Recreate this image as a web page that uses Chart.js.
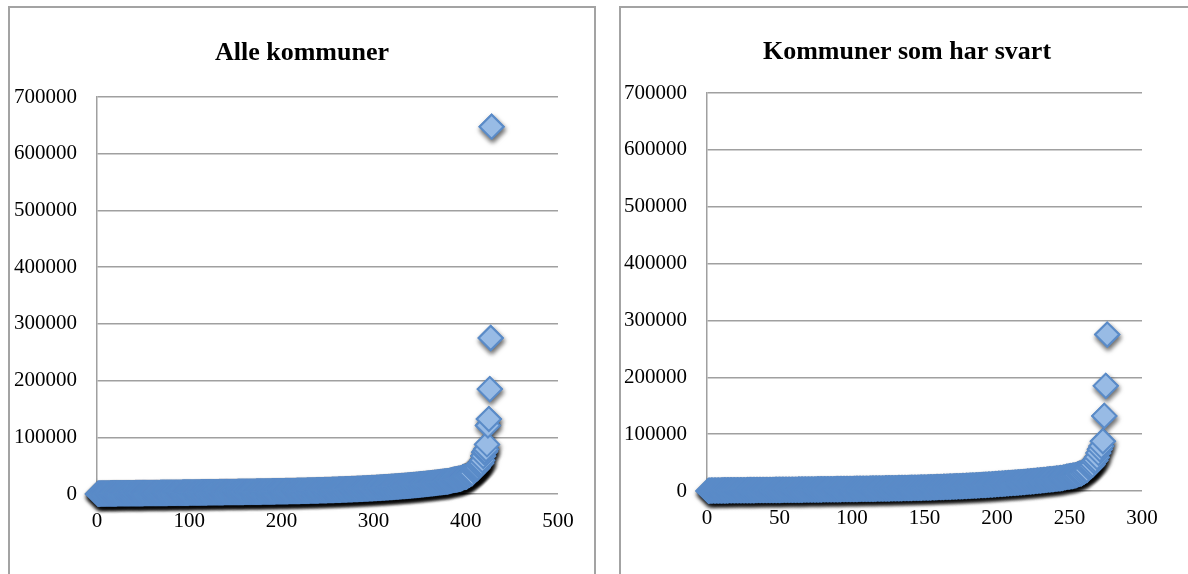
<!DOCTYPE html>
<html lang="no">
<head>
<meta charset="utf-8">
<title>Kommuner – innbyggertall</title>
<script src="https://cdn.jsdelivr.net/npm/chart.js@4.4.1/dist/chart.umd.min.js"></script>
<style>
  html, body { margin: 0; padding: 0; background: #fff; width: 1188px; height: 574px; overflow: hidden; }
  .ramme { position: absolute; border: 2px solid #a3a3a3; border-bottom: none; box-sizing: border-box; }
  #rammeA { left: 8px; top: 6px; width: 588px; height: 590px; }
  #rammeB { left: 619px; top: 6px; width: 620px; height: 590px; }
  canvas { position: absolute; top: 0; }
  #kartA { left: 0; }
  #kartB { left: 620px; }
</style>
</head>
<body>
<div class="ramme" id="rammeA"></div>
<div class="ramme" id="rammeB"></div>
<canvas id="kartA" width="604" height="574"></canvas>
<canvas id="kartB" width="574" height="574"></canvas>
<script>
// Innbyggertall per kommune, sortert stigende (x = rangering 1..n)
const befolkningAlle = [
  208, 377, 466, 520, 558, 563, 571, 597, 646, 687,
  708, 745, 762, 781, 829, 836, 851, 878, 902, 915,
  944, 952, 977, 1003, 1017, 1031, 1047, 1054, 1079, 1091,
  1103, 1118, 1126, 1152, 1164, 1170, 1191, 1203, 1229, 1236,
  1251, 1262, 1287, 1296, 1311, 1333, 1342, 1364, 1381, 1390,
  1412, 1419, 1436, 1461, 1468, 1487, 1502, 1516, 1538, 1549,
  1567, 1582, 1594, 1618, 1633, 1640, 1662, 1689, 1697, 1714,
  1738, 1752, 1769, 1781, 1806, 1822, 1840, 1861, 1872, 1897,
  1914, 1928, 1956, 1971, 1983, 2012, 2025, 2049, 2071, 2084,
  2110, 2126, 2152, 2168, 2193, 2204, 2237, 2255, 2270, 2301,
  2318, 2342, 2361, 2389, 2402, 2427, 2445, 2471, 2490, 2516,
  2531, 2558, 2583, 2597, 2624, 2641, 2669, 2688, 2712, 2735,
  2759, 2781, 2803, 2830, 2848, 2872, 2897, 2918, 2944, 2967,
  2990, 3012, 3041, 3063, 3085, 3112, 3136, 3158, 3184, 3207,
  3225, 3241, 3268, 3284, 3301, 3329, 3344, 3362, 3390, 3404,
  3421, 3447, 3466, 3480, 3512, 3529, 3547, 3573, 3590, 3618,
  3636, 3659, 3681, 3702, 3727, 3745, 3770, 3794, 3811, 3840,
  3862, 3889, 3910, 3936, 3958, 3984, 4012, 4035, 4061, 4090,
  4113, 4142, 4166, 4195, 4221, 4250, 4277, 4305, 4336, 4362,
  4393, 4421, 4452, 4480, 4513, 4542, 4575, 4604, 4638, 4669,
  4702, 4731, 4768, 4790, 4826, 4861, 4887, 4920, 4958, 4985,
  5024, 5061, 5090, 5132, 5168, 5203, 5245, 5279, 5318, 5356,
  5391, 5437, 5472, 5515, 5551, 5598, 5640, 5682, 5719, 5766,
  5812, 5854, 5897, 5943, 5991, 6032, 6084, 6127, 6176, 6224,
  6269, 6321, 6368, 6419, 6470, 6518, 6572, 6623, 6677, 6730,
  6786, 6838, 6895, 6951, 7007, 7068, 7122, 7183, 7240, 7302,
  7361, 7425, 7483, 7549, 7608, 7674, 7738, 7801, 7869, 7931,
  8002, 8066, 8137, 8205, 8272, 8346, 8413, 8489, 8561, 8634,
  8712, 8784, 8863, 8939, 9017, 9098, 9176, 9259, 9338, 9424,
  9503, 9591, 9672, 9761, 9846, 9935, 10024, 10117, 10206, 10302,
  10391, 10488, 10583, 10679, 10781, 10876, 10979, 11078, 11185, 11286,
  11394, 11497, 11608, 11714, 11826, 11937, 12047, 12163, 12276, 12394,
  12508, 12629, 12747, 12871, 12989, 13115, 13238, 13366, 13492, 13621,
  13751, 13884, 14016, 14152, 14287, 14426, 14565, 14708, 14849, 14996,
  15141, 15292, 15441, 15593, 15748, 15901, 16060, 16216, 16378, 16539,
  16703, 16868, 17036, 17203, 17375, 17546, 17721, 17897, 18075, 18255,
  18437, 18622, 18806, 18995, 19183, 19376, 19568, 19764, 19961, 20163,
  20364, 20571, 20775, 20986, 21195, 21410, 21623, 21842,
  21920, 22100, 22380, 22790, 23020, 23590, 24110, 24560, 24790, 25070,
  25460, 25530, 26010, 26450, 26610, 26800, 27490, 28050, 29570, 29810,
  30100, 30230, 30580, 32330, 33670, 33900, 35930, 36590, 36820, 41980,
  42200, 43180, 44050, 44820, 46471, 50185, 51883, 53952, 54678, 59571,
  67016, 73480, 74820, 78967, 87446, 120685, 132102, 184960, 275112, 647676
];

const befolkningSvart = [
  208, 377, 520, 558, 571, 597, 687, 708, 762, 781,
  836, 851, 902, 915, 952, 977, 1017, 1031, 1054, 1079,
  1103, 1118, 1152, 1164, 1191, 1203, 1236, 1251, 1287, 1296,
  1333, 1342, 1381, 1390, 1419, 1436, 1468, 1487, 1516, 1538,
  1567, 1582, 1618, 1633, 1662, 1689, 1714, 1738, 1769, 1781,
  1822, 1840, 1872, 1897, 1928, 1956, 1983, 2012, 2049, 2071,
  2110, 2126, 2168, 2193, 2237, 2255, 2301, 2318, 2361, 2389,
  2427, 2445, 2490, 2516, 2558, 2583, 2624, 2641, 2688, 2712,
  2759, 2781, 2830, 2848, 2897, 2918, 2967, 2990, 3041, 3063,
  3112, 3136, 3184, 3207, 3241, 3268, 3301, 3329, 3362, 3390,
  3421, 3466, 3512, 3547, 3590, 3618,
  3659, 3681, 3727, 3770, 3811, 3840,
  3889, 3910, 3958, 4012, 4061, 4090,
  4142, 4166, 4221, 4277, 4336, 4362,
  4421, 4452, 4513, 4575, 4638, 4669,
  4731, 4768, 4826, 4887, 4958, 4985,
  5061, 5090, 5168, 5245, 5318, 5356,
  5437, 5472, 5551, 5640, 5719, 5766,
  5854, 5897, 5991, 6084, 6176, 6224,
  6321, 6368, 6470, 6572, 6677, 6730,
  6838, 6895, 7007, 7122, 7240, 7302,
  7425, 7483, 7608, 7738, 7869, 7931,
  8066, 8137, 8272, 8413, 8561, 8634,
  8784, 8863, 9017, 9176, 9338, 9424,
  9591, 9672, 9846, 10024, 10206, 10302,
  10488, 10583, 10781, 10979, 11185, 11286,
  11497, 11608, 11826, 12047, 12276, 12394,
  12629, 12747, 12989, 13238, 13492, 13621,
  13751, 13884, 14152, 14287, 14565, 14849, 14996,
  15141, 15292, 15593, 15748, 16060, 16378, 16539,
  16703, 16868, 17203, 17375, 17721, 18075, 18255,
  18437, 18622, 18995, 19183, 19568, 19961, 20163,
  20364, 20571, 20986, 21195, 21623, 21842, 22100,
  22380, 22790, 23590, 24110, 24790, 25070, 25530,
  26010, 26450, 26800, 27490, 28050, 29810, 30230,
  30580, 32330, 33900, 35930, 36820, 41980, 43180,
  44050, 46471, 51883, 53952, 59571, 67016,
  73480, 78967, 87446, 132102, 184960, 275112
];

const xTicksAlle  = [0, 100, 200, 300, 400, 500];
const xTicksSvart = [0, 50, 100, 150, 200, 250, 300];
const yTicks = [0, 100000, 200000, 300000, 400000, 500000, 600000, 700000];

const SERIF = '"Liberation Serif", "Times New Roman", Times, serif';

// Skygge under markørene: tegnes i et eget pass før selve punktene
const markorSkygge = {
  id: 'markorSkygge',
  beforeDatasetDraw(chart, args) {
    const ctx = chart.ctx;
    ctx.save();
    ctx.shadowColor = 'rgba(0,0,0,0.6)';
    ctx.shadowBlur = 5;
    ctx.shadowOffsetX = 1;
    ctx.shadowOffsetY = 3;
    args.meta.data.forEach(p => p.draw(ctx, chart.chartArea));
    ctx.restore();
  }
};

// omr: y-aksens bredde, tom høyrekant, høyde over plottet,
// tittelens toppmarg og x-aksens høyde
function lagDiagram(id, tittel, verdier, xTicks, omr) {
  const punkter = verdier.map((v, i) => ({ x: i + 1, y: v }));
  return new Chart(document.getElementById(id), {
    type: 'scatter',
    data: {
      datasets: [{
        data: punkter,
        pointStyle: 'rectRot',
        pointRadius: 12,
        pointBorderWidth: 2,
        backgroundColor: '#98bbe5',
        borderColor: '#5a8bc8',
        clip: false
      }]
    },
    options: {
      responsive: false,
      animation: false,
      events: [],
      layout: { padding: 0 },
      plugins: {
        legend: { display: false },
        tooltip: { enabled: false },
        title: {
          display: true,
          text: tittel,
          color: '#000',
          font: { family: SERIF, size: 26, weight: 'bold', lineHeight: 1.2 },
          padding: { top: omr.tittelTopp, bottom: omr.topp - omr.tittelTopp - 31.2 }
        }
      },
      scales: {
        x: {
          type: 'linear',
          min: xTicks[0],
          max: xTicks[xTicks.length - 1],
          afterBuildTicks: s => { s.ticks = xTicks.map(v => ({ value: v })); },
          afterFit: s => { s.height = omr.xHoyde; },
          grid: { display: false, drawTicks: false },
          border: { display: false },
          ticks: {
            color: '#000',
            font: { family: SERIF, size: 21 },
            padding: 15,
            autoSkip: false,
            maxRotation: 0,
            callback: v => String(v)
          }
        },
        y: {
          type: 'linear',
          min: yTicks[0],
          max: yTicks[yTicks.length - 1],
          afterBuildTicks: s => { s.ticks = yTicks.map(v => ({ value: v })); },
          afterFit: s => { s.width = omr.yBredde; },
          grid: { color: '#a0a0a0', lineWidth: 1.5, drawTicks: false },
          border: { display: true, color: '#a0a0a0', width: 1.5 },
          ticks: {
            color: '#000',
            font: { family: SERIF, size: 21 },
            padding: 20,
            autoSkip: false,
            callback: v => String(v)
          }
        },
        // tom kant til høyre for plottet
        hoyreKant: {
          type: 'linear',
          position: 'right',
          min: 0,
          max: 1,
          afterFit: s => { s.width = omr.hoyre; },
          grid: { display: false, drawTicks: false },
          border: { display: false },
          ticks: { display: false }
        }
      }
    },
    plugins: [markorSkygge]
  });
}

lagDiagram('kartA', 'Alle kommuner', befolkningAlle, xTicksAlle,
  { yBredde: 97, hoyre: 46, topp: 97, tittelTopp: 38, xHoyde: 80 });
lagDiagram('kartB', 'Kommuner som har svart', befolkningSvart, xTicksSvart,
  { yBredde: 87, hoyre: 52, topp: 93, tittelTopp: 37, xHoyde: 83 });
</script>
</body>
</html>
